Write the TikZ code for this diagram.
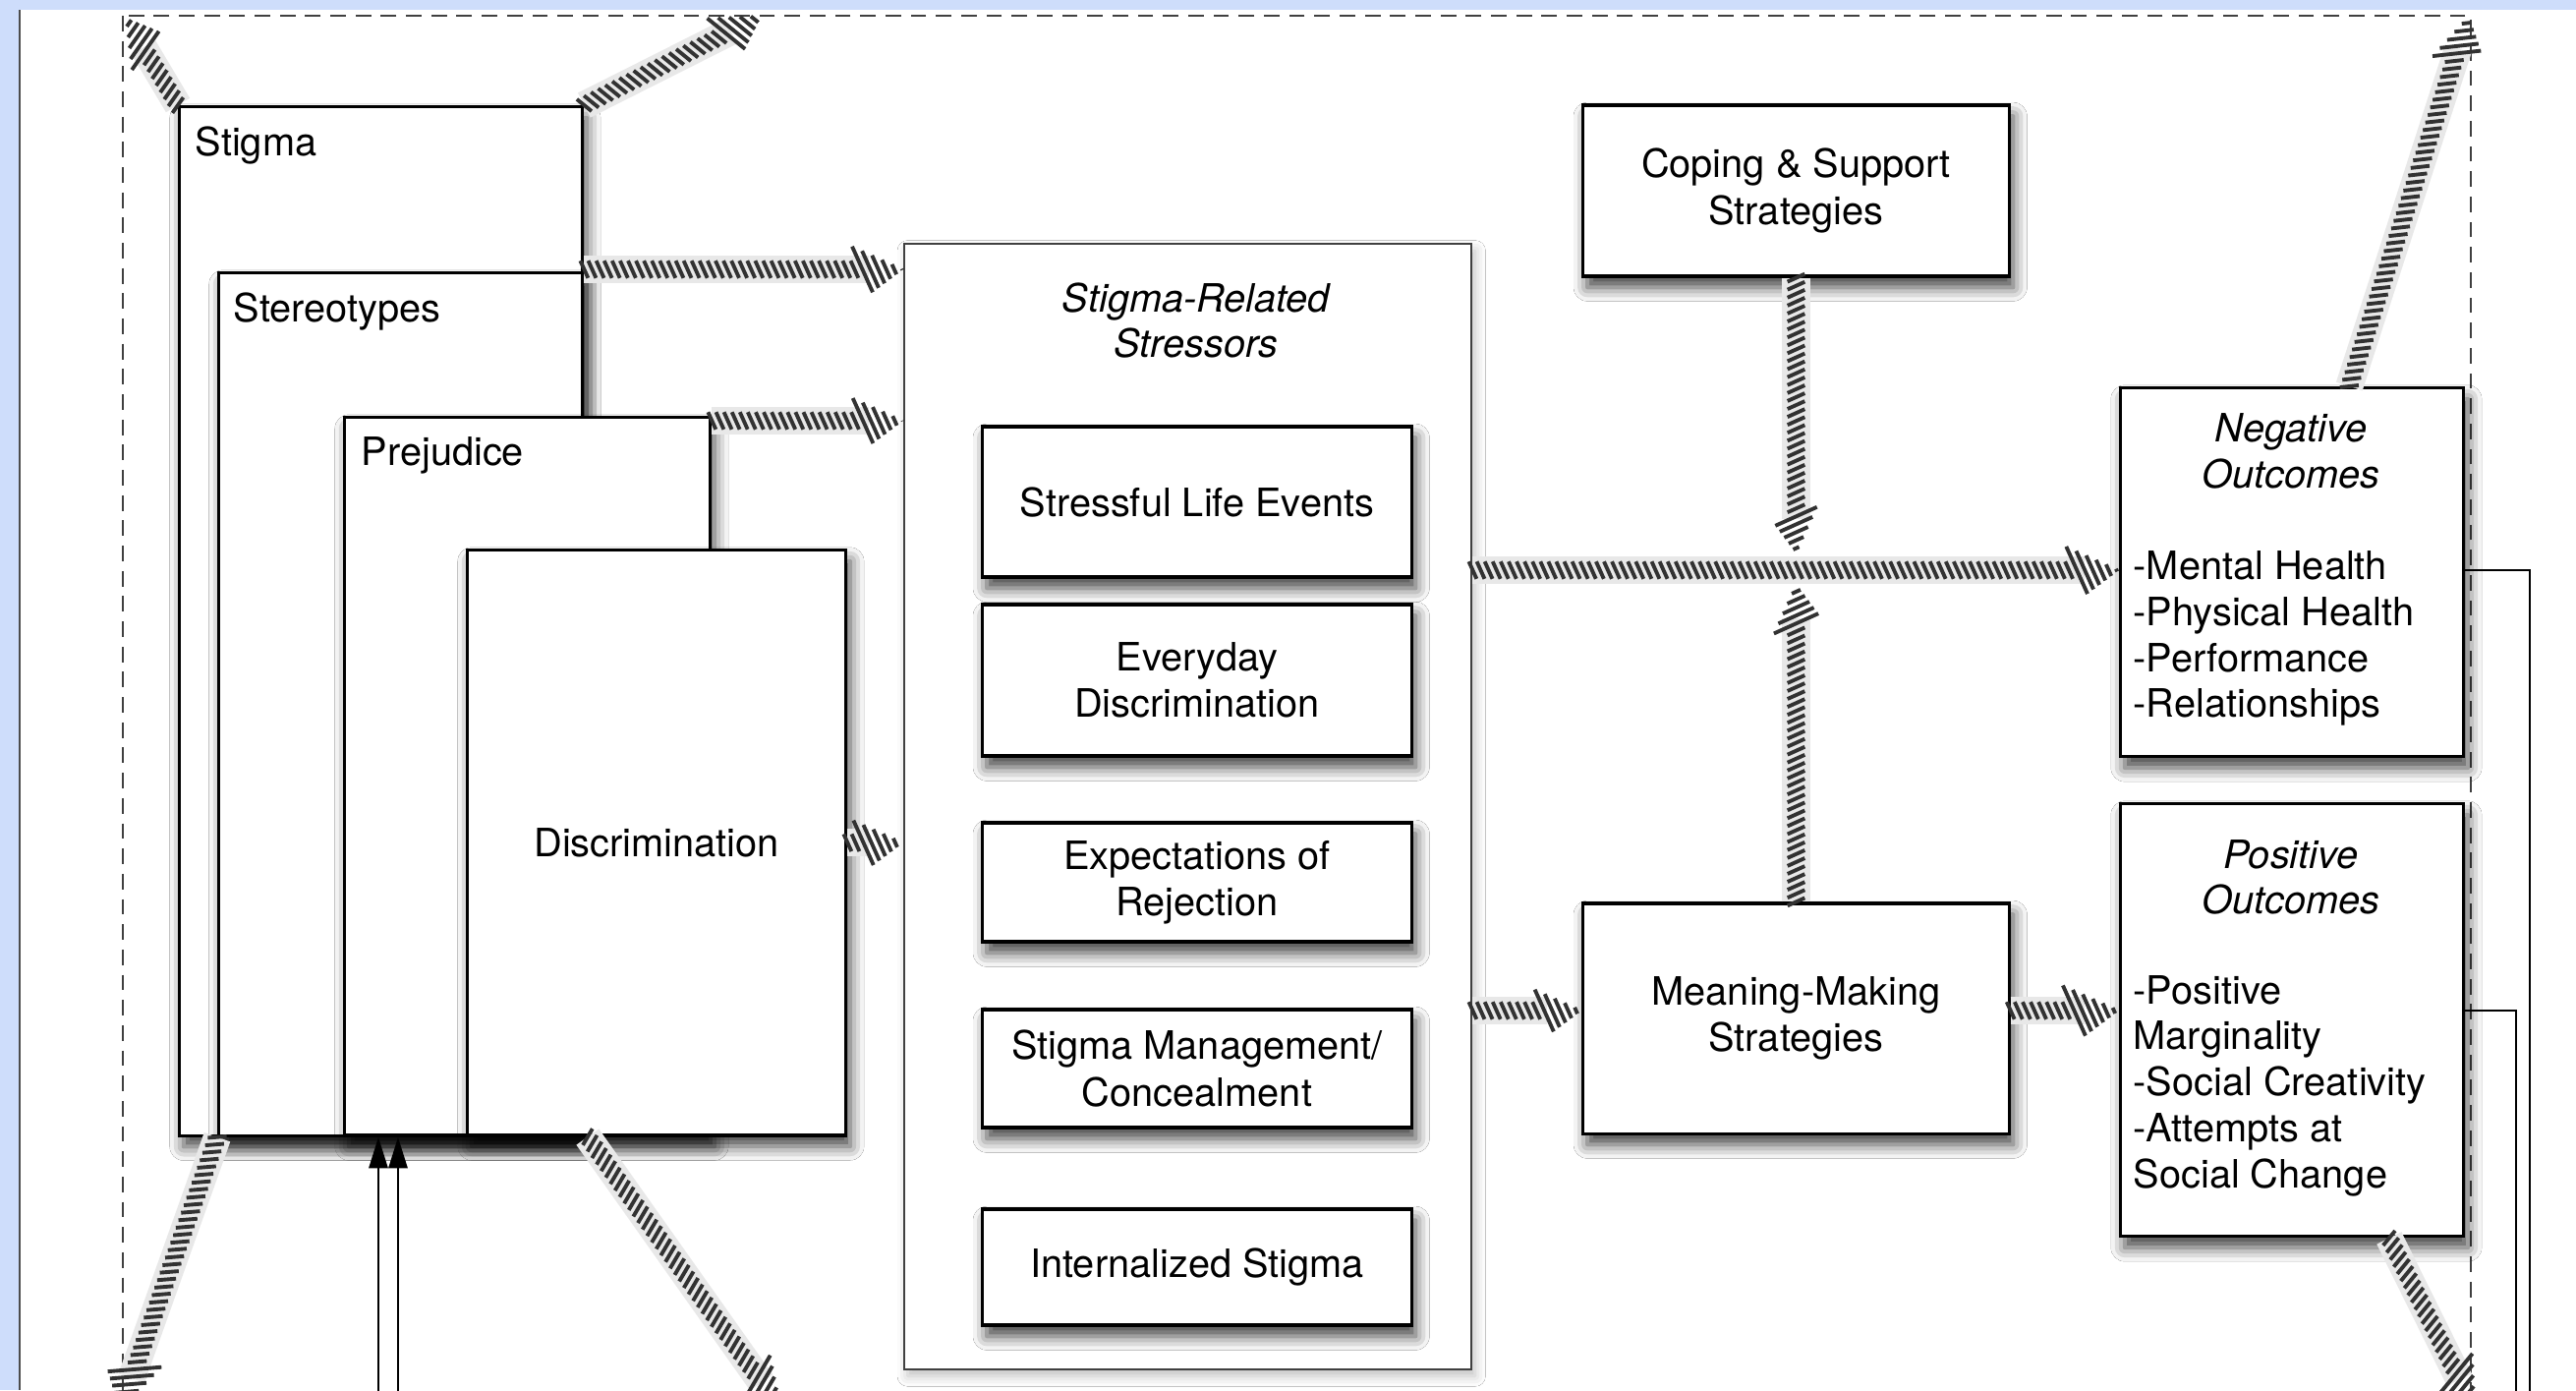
\documentclass[tikz,border=0pt]{standalone}
\usepackage{fontspec}
\setmainfont{TeX Gyre Heros}
\usetikzlibrary{arrows.meta,decorations.markings,shadows.blur,calc}
\definecolor{bgblue}{RGB}{206,221,251}
\definecolor{hatchcol}{RGB}{50,50,50}
\newcommand\hatchtick{%
  \pgfmathsetmacro\hdist{\pgfdecoratedpathlength-\pgfkeysvalueof{/pgf/decoration/mark info/distance from start}}%
  \pgfmathsetmacro\hw{\hdist<13 ? 7.3*\hdist/13 : 2.5}%
  \pgfmathsetmacro\ha{0.45*\hw}%
  \draw[hatchcol, line width=1.1pt, line cap=butt] (-\ha pt,\hw pt) -- (\ha pt,-\hw pt);%
}
\begin{document}
\begin{tikzpicture}[x=0.01cm,y=-0.01cm,
  txt/.style={font=\fontsize{11.3}{13.4}\selectfont, inner sep=0pt},
  itxt/.style={font=\fontsize{11.3}{13.4}\selectfont\itshape, inner sep=0pt},
  box/.style={txt, draw=black, line width=0.9pt, fill=white, align=center,
    blur shadow={shadow xshift=1.2pt, shadow yshift=-3.2pt, shadow blur radius=4pt, shadow opacity=75}},
  cont/.style={draw=black!75, line width=0.6pt, fill=white,
    blur shadow={shadow xshift=1pt, shadow yshift=-2pt, shadow blur radius=3pt, shadow opacity=25}},
  hatch/.style={preaction={draw=black!9, line width=8pt, shorten >=10pt},
    postaction={decorate},
    decoration={markings, mark=between positions 0 and 1 step 2.3pt with {\hatchtick}}},
  frame/.style={draw=black!75, line width=0.75pt, dash pattern=on 4.5pt off 2.8pt},
  thinline/.style={draw=black, line width=0.6pt},
  thinarrow/.style={draw=black, line width=0.6pt, -{Triangle[width=5.5pt,length=9pt]}}
]
\useasboundingbox (0,0) rectangle (2621,1414);
\clip (0,0) rectangle (2621,1414);
\fill[bgblue] (0,0) rectangle (2621,1414);
\fill[white] (20,10) rectangle (2621,1414);
\draw[black!70, line width=0.6pt] (20,10) -- (20,1414);

% dashed frame
\draw[frame] (125,16) rectangle (2514,1450);

% helper coordinates
\coordinate (yA) at (0,274);
\coordinate (yB) at (0,428);
\coordinate (yN) at (0,580);
\coordinate (yM) at (0,1028);
\coordinate (tipdown) at (0,563);
\coordinate (tipup) at (0,594);
\coordinate (tl) at (128,18);
\coordinate (tr) at (775,16);
\coordinate (bl) at (122,1435);
\coordinate (br) at (795,1435);
\coordinate (tr2) at (2512,16);
\coordinate (br2) at (2518,1435);
\coordinate (rl1) at (2574,1430);
\coordinate (rl2) at (2560,1430);
\coordinate (ba1) at (385,1430);
\coordinate (ba2) at (405,1430);

% stigma stack
\node[box, anchor=north west, minimum width=4.10cm, minimum height=10.46cm] (stigma) at (181,107) {};
\node[txt, anchor=base west] (lstig) at (198,158) {Stigma};
\node[box, anchor=north west, minimum width=3.70cm, minimum height=8.77cm] (ster) at (221,276) {};
\node[txt, anchor=base west] (lster) at (237,327) {Stereotypes};
\node[box, anchor=north west, minimum width=3.72cm, minimum height=7.30cm] (prej) at (349,423) {};
\node[txt, anchor=base west] (lprej) at (367,473) {Prejudice};
\node[box, anchor=north west, minimum width=3.85cm, minimum height=5.95cm] (disc) at (474,558) {Discrimination};

% stressors container
\node[cont, anchor=north west, minimum width=5.77cm, minimum height=11.44cm] (srs) at (919,247) {};
\node[itxt, anchor=base] (srs1) at (1217,317) {Stigma-Related};
\node[itxt, anchor=base] (srs2) at (1217,363) {Stressors};
\node[box, minimum width=4.36cm, minimum height=1.53cm] (sle) at (1218,510.5) {Stressful Life Events};
\node[box, minimum width=4.36cm, minimum height=1.54cm] (ed) at (1218,692) {Everyday\\Discrimination};
\node[box, minimum width=4.36cm, minimum height=1.21cm] (er) at (1218,897.5) {Expectations of\\Rejection};
\node[box, minimum width=4.36cm, minimum height=1.20cm] (smc) at (1218,1087) {Stigma Management/\\Concealment};
\node[box, minimum width=4.36cm, minimum height=1.18cm] (ins) at (1218,1289) {Internalized Stigma};

% coping and meaning
\node[box, minimum width=4.33cm, minimum height=1.74cm] (cope) at (1827.5,194) {Coping \& Support\\Strategies};
\node[box, minimum width=4.33cm, minimum height=2.34cm] (mean) at (1827.5,1036) {Meaning-Making\\Strategies};

% outcomes
\node[box, anchor=north west, minimum width=3.49cm, minimum height=3.75cm] (neg) at (2156,393) {};
\node[itxt, anchor=base] (neg1) at (2331,449) {Negative};
\node[itxt, anchor=base] (neg2) at (2331,496) {Outcomes};
\node[txt, anchor=base west] (neg3) at (2170,589) {-Mental Health};
\node[txt, anchor=base west] (neg4) at (2170,636) {-Physical Health};
\node[txt, anchor=base west] (neg5) at (2170,683) {-Performance};
\node[txt, anchor=base west] (neg6) at (2170,729) {-Relationships};

\node[box, anchor=north west, minimum width=3.49cm, minimum height=4.40cm] (pos) at (2156,816) {};
\node[itxt, anchor=base] (pos1) at (2331,883) {Positive};
\node[itxt, anchor=base] (pos2) at (2331,929) {Outcomes};
\node[txt, anchor=base west] (pos3) at (2170,1021) {-Positive};
\node[txt, anchor=base west] (pos4) at (2170,1067) {Marginality};
\node[txt, anchor=base west] (pos5) at (2170,1114) {-Social Creativity};
\node[txt, anchor=base west] (pos6) at (2170,1161) {-Attempts at};
\node[txt, anchor=base west] (pos7) at (2170,1208) {Social Change};

% thin feedback lines
\draw[thinline] (neg.east |- yN) -| (rl1);
\draw[thinline] (pos.east |- yM) -| (rl2);
\draw[thinarrow] (ba1) -- (ba1 |- stigma.south);
\draw[thinarrow] (ba2) -- (ba2 |- stigma.south);

% hatched arrows
\path[hatch] (stigma.north east |- yA) -- (srs.west |- yA);
\path[hatch] (prej.north east |- yB) -- (srs.west |- yB);
\path[hatch] (disc.east) -- (srs.west |- disc.east);
\path[hatch] (srs.east |- yN) -- (neg.west |- yN);
\path[hatch] (cope.south) -- (cope.south |- tipdown);
\path[hatch] (mean.north) -- (mean.north |- tipup);
\path[hatch] (srs.east |- yM) -- (mean.west |- yM);
\path[hatch] (mean.east |- yM) -- (pos.west |- yM);
\path[hatch] (stigma.north west) -- (tl);
\path[hatch] (stigma.north east) -- (tr);
\path[hatch] (ster.south west) -- (bl);
\path[hatch] ($(disc.south west)!0.319!(disc.south east)$) -- (br);
\path[hatch] ($(neg.north west)!0.665!(neg.north east)$) -- (tr2);
\path[hatch] ($(pos.south west)!0.78!(pos.south east)$) -- (br2);
\end{tikzpicture}
\end{document}
